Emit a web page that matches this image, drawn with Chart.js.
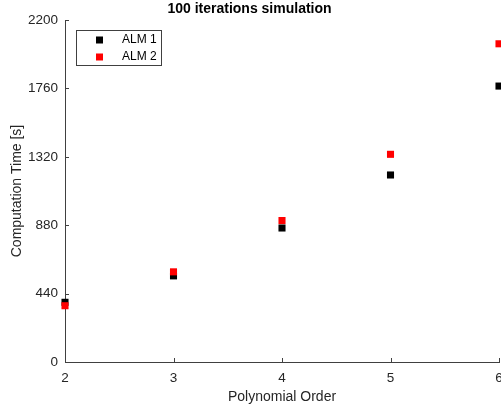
<!DOCTYPE html>
<html>
<head>
<meta charset="utf-8">
<script src="https://cdn.jsdelivr.net/npm/chart.js@4.4.1/dist/chart.umd.min.js"></script>
<style>
html, body { margin: 0; padding: 0; background: #fff; }
#wrap { width: 501px; height: 407px; }
</style>
</head>
<body>
<div id="wrap"><canvas id="chart"></canvas></div>
<script>
var orders = [2, 3, 4, 5, 6];
var alm1 = [384, 554, 862, 1203, 1775];
var alm2 = [362, 580, 910, 1336, 2047];
var seriesNames = ['ALM 1', 'ALM 2'];
var yTicks = [0, 440, 880, 1320, 1760, 2200];

var font = "'Liberation Sans', Arial, Helvetica, sans-serif";
var axisColor = '#404040';
var textColor = '#262626';

function toPoints(vals) {
    return orders.map(function (o, i) { return { x: o, y: vals[i] }; });
}

// MATLAB style ticks pointing into the plot
var innerTicks = {
    id: 'innerTicks',
    beforeDatasetsDraw: function (chart) {
        var ctx = chart.ctx, a = chart.chartArea;
        var sx = chart.scales.x, sy = chart.scales.y;
        ctx.save();
        ctx.strokeStyle = axisColor;
        ctx.lineWidth = 1;
        ctx.beginPath();
        sx.ticks.forEach(function (t) {
            var px = Math.round(sx.getPixelForValue(t.value)) + 0.5;
            ctx.moveTo(px, a.bottom);
            ctx.lineTo(px, a.bottom - 4);
        });
        sy.ticks.forEach(function (t) {
            var py = Math.round(sy.getPixelForValue(t.value)) + 0.5;
            ctx.moveTo(a.left, py);
            ctx.lineTo(a.left + 4, py);
        });
        ctx.stroke();
        ctx.restore();
    }
};

var boxLegend = {
    id: 'boxLegend',
    afterDraw: function (chart) {
        var ctx = chart.ctx, a = chart.chartArea;
        var bx = a.left + 11, by = a.top + 10, bw = 86, bh = 36;
        ctx.save();
        ctx.fillStyle = '#fff';
        ctx.fillRect(bx, by, bw, bh);
        ctx.strokeStyle = axisColor;
        ctx.lineWidth = 1;
        ctx.strokeRect(bx + 0.5, by + 0.5, bw - 1, bh - 1);
        ctx.font = '12px ' + font;
        ctx.textBaseline = 'middle';
        chart.data.datasets.forEach(function (ds, i) {
            var cy = by + 10 + i * 17;
            ctx.fillStyle = ds.backgroundColor;
            ctx.fillRect(bx + 20, cy - 3.5, 7, 7);
            ctx.fillStyle = '#000';
            ctx.fillText(ds.label, bx + 46, cy);
        });
        ctx.restore();
    }
};

new Chart(document.getElementById('chart'), {
    type: 'scatter',
    data: {
        datasets: [{
            label: seriesNames[0],
            data: toPoints(alm1),
            backgroundColor: '#000000',
            borderWidth: 0,
            pointStyle: 'rect',
            pointRadius: 5,
            clip: false,
            order: 1
        }, {
            label: seriesNames[1],
            data: toPoints(alm2),
            backgroundColor: '#ff0000',
            borderWidth: 0,
            pointStyle: 'rect',
            pointRadius: 5,
            clip: false,
            order: 0
        }]
    },
    options: {
        responsive: true,
        maintainAspectRatio: false,
        animation: false,
        devicePixelRatio: 1,
        layout: { autoPadding: false, padding: { right: 2 } },
        plugins: {
            legend: { display: false },
            tooltip: { enabled: false },
            title: {
                display: true,
                text: '100 iterations simulation',
                color: '#000',
                font: { family: font, size: 14, weight: 'bold' },
                padding: { top: 1, bottom: 2.2 }
            }
        },
        scales: {
            x: {
                type: 'linear',
                min: 2,
                max: 6,
                grid: { display: false, drawTicks: false },
                border: { display: true, color: axisColor },
                ticks: {
                    stepSize: 1, color: textColor, padding: 8,
                    font: { family: font, size: 13.5 },
                    callback: function (v) { return String(v); }
                },
                title: {
                    display: true,
                    text: 'Polynomial Order',
                    color: textColor,
                    font: { family: font, size: 14 },
                    padding: { top: 0, bottom: 1 }
                },
                afterFit: function (s) { s.height = 45; s.paddingRight = 0; }
            },
            y: {
                min: 0,
                max: 2200,
                grid: { display: false, drawTicks: false },
                border: { display: true, color: axisColor },
                afterBuildTicks: function (s) { s.ticks = yTicks.map(function (v) { return { value: v }; }); },
                ticks: {
                    color: textColor, padding: 7,
                    font: { family: font, size: 13.5 },
                    callback: function (v) { return String(v); }
                },
                title: {
                    display: true,
                    text: 'Computation Time [s]',
                    color: textColor,
                    font: { family: font, size: 14 },
                    padding: { top: 9, bottom: 0 }
                },
                afterFit: function (s) { s.width = 65; }
            }
        }
    },
    plugins: [innerTicks, boxLegend]
});
</script>
</body>
</html>
